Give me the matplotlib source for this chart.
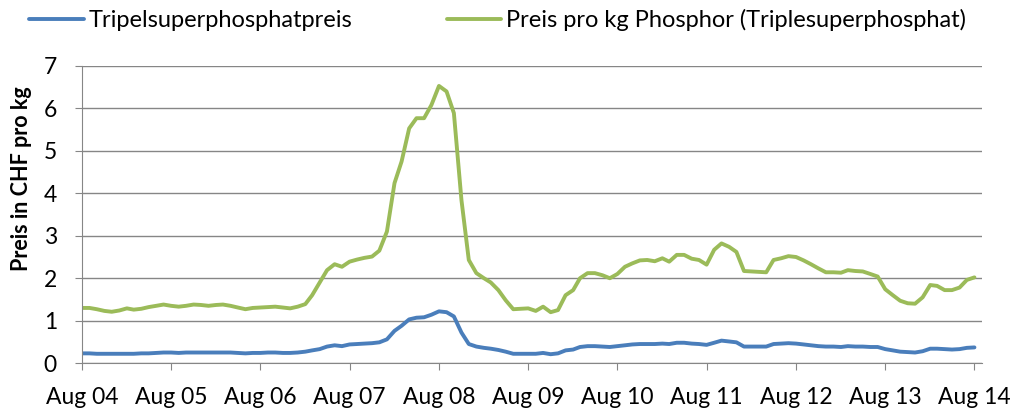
import matplotlib
matplotlib.use("Agg")
import matplotlib.pyplot as plt
import matplotlib.dates as mdates
import pandas as pd

plt.rcParams['font.family'] = ['Lato', 'DejaVu Sans']

# monthly values, Aug 2004 .. Aug 2014
dates = pd.date_range("2004-08-01", "2014-08-01", freq="MS")

tsp_preis = [
    0.23, 0.23, 0.22, 0.22, 0.22, 0.22, 0.22, 0.22, 0.23, 0.23, 0.24, 0.25,
    0.25, 0.24, 0.25, 0.25, 0.25, 0.25, 0.25, 0.25, 0.25, 0.24, 0.23, 0.24,
    0.24, 0.25, 0.25, 0.24, 0.24, 0.25, 0.27, 0.30, 0.33, 0.39, 0.42, 0.40,
    0.44, 0.45, 0.46, 0.47, 0.49, 0.56, 0.76, 0.88, 1.03, 1.07, 1.08, 1.14,
    1.22, 1.20, 1.10, 0.72, 0.45, 0.39, 0.36, 0.34, 0.31, 0.27, 0.22, 0.22,
    0.22, 0.22, 0.24, 0.21, 0.23, 0.30, 0.32, 0.38, 0.40, 0.40, 0.39, 0.38,
    0.40, 0.42, 0.44, 0.45, 0.45, 0.45, 0.46, 0.45, 0.48, 0.48, 0.46, 0.45,
    0.43, 0.48, 0.53, 0.51, 0.49, 0.39, 0.39, 0.39, 0.39, 0.45, 0.46, 0.47,
    0.46, 0.44, 0.42, 0.40, 0.39, 0.39, 0.38, 0.40, 0.39, 0.39, 0.38, 0.38,
    0.33, 0.30, 0.27, 0.26, 0.25, 0.28, 0.34, 0.34, 0.33, 0.32, 0.33, 0.36,
    0.37,
]

p_preis = [
    1.30, 1.30, 1.27, 1.23, 1.21, 1.24, 1.29, 1.26, 1.28, 1.32, 1.35, 1.38,
    1.35, 1.33, 1.35, 1.38, 1.37, 1.35, 1.37, 1.38, 1.35, 1.31, 1.27, 1.30,
    1.31, 1.32, 1.33, 1.31, 1.29, 1.33, 1.39, 1.60, 1.90, 2.19, 2.33, 2.27,
    2.39, 2.44, 2.48, 2.51, 2.65, 3.10, 4.24, 4.75, 5.53, 5.77, 5.77, 6.08,
    6.53, 6.40, 5.89, 3.84, 2.43, 2.12, 2.00, 1.90, 1.72, 1.48, 1.27, 1.28,
    1.29, 1.23, 1.33, 1.20, 1.25, 1.60, 1.72, 2.00, 2.12, 2.12, 2.07, 2.00,
    2.10, 2.27, 2.35, 2.42, 2.43, 2.40, 2.47, 2.39, 2.55, 2.55, 2.46, 2.43,
    2.32, 2.67, 2.82, 2.74, 2.62, 2.17, 2.16, 2.15, 2.14, 2.43, 2.47, 2.52,
    2.50, 2.42, 2.33, 2.23, 2.14, 2.14, 2.13, 2.19, 2.17, 2.16, 2.10, 2.04,
    1.74, 1.60, 1.47, 1.41, 1.40, 1.55, 1.84, 1.82, 1.72, 1.72, 1.78, 1.96,
    2.02,
]

fig = plt.figure(figsize=(10.24, 4.15), dpi=100)
ax = fig.add_axes([0.080, 0.125, 0.879, 0.716])

ax.plot(dates, tsp_preis, color='#4A7EBB', lw=2.8, solid_capstyle='round',
        label='Tripelsuperphosphatpreis')
ax.plot(dates, p_preis, color='#9BBB59', lw=2.8, solid_capstyle='round',
        label='Preis pro kg Phosphor (Triplesuperphosphat)')

ax.set_ylim(0, 7)
ax.set_yticks(range(0, 8))
ax.set_xlim(pd.Timestamp("2004-08-01"), pd.Timestamp("2014-09-01"))
ax.xaxis.set_major_locator(mdates.MonthLocator(bymonth=8))
ax.xaxis.set_major_formatter(mdates.DateFormatter("Aug %y"))

ax.grid(axis='y', color='#868686', lw=1)
ax.set_axisbelow(True)
for s in ['top', 'right']:
    ax.spines[s].set_visible(False)
for s in ['left', 'bottom']:
    ax.spines[s].set_color('#868686')
ax.tick_params(colors='#868686', labelcolor='black', labelsize=16.5, length=5)
ax.tick_params(axis='x', pad=12)
ax.tick_params(axis='y', pad=13)

ax.set_ylabel('Preis in CHF pro kg', fontsize=15.5, fontweight='bold')
ax.yaxis.set_label_coords(-0.055, 0.62)

fig.legend(loc='upper left', bbox_to_anchor=(0.008, 1.03), ncol=2, frameon=False,
           fontsize=17, handlelength=2.3, handletextpad=0.2, columnspacing=4.0)

fig.savefig("out.png", dpi=100)
